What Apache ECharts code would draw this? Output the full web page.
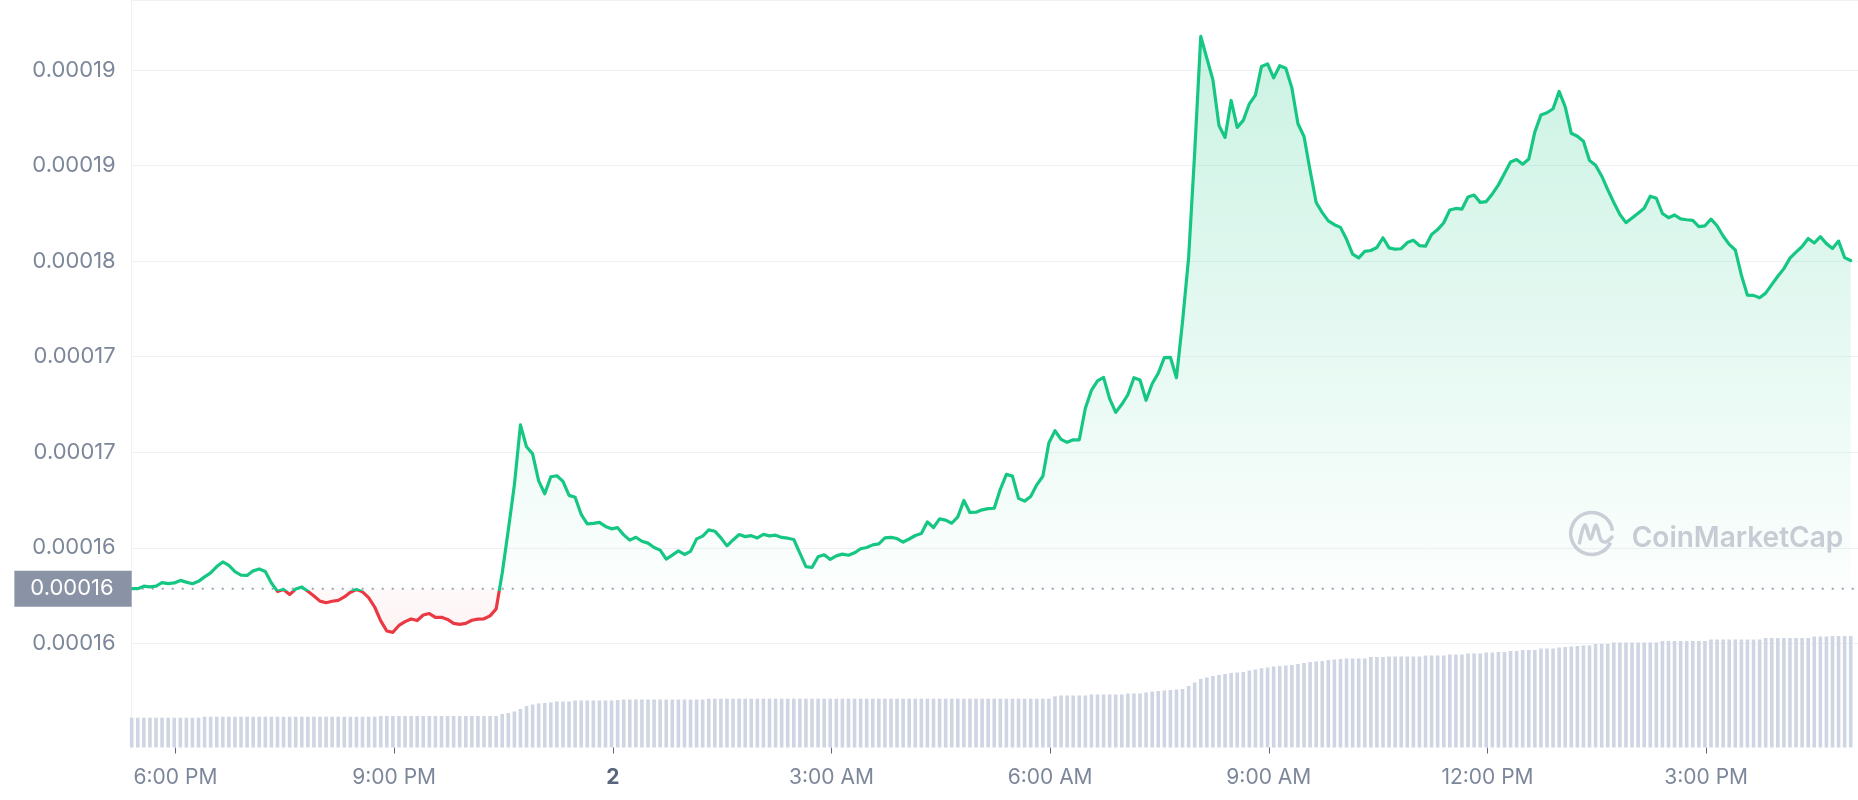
<!DOCTYPE html>
<html>
<head>
<meta charset="utf-8">
<script src="https://cdn.jsdelivr.net/npm/echarts@6/dist/echarts.min.js"></script>
<style>
html,body{margin:0;padding:0;background:#ffffff;}
#chart{width:1858px;height:800px;}
</style>
</head>
<body>
<div id="chart"></div>
<script>
// ---- data ----
const startTime = new Date(2023, 5, 1, 17, 24).getTime();   // first sample
const stepMinutes = 5;                                        // sample spacing
const axisSpanMinutes = 1421;                                 // visible time span
const baseline = 1.5943e-4;                                   // opening price (dotted line)

const prices = [
  1.5943e-4,1.5943e-4,1.5959e-4,1.5954e-4,1.5959e-4,1.5981e-4,1.5975e-4,1.5979e-4,1.5995e-4,1.5984e-4,
  1.5974e-4,1.5989e-4,1.6017e-4,1.6042e-4,1.6082e-4,1.6111e-4,1.6089e-4,1.6050e-4,1.6028e-4,1.6026e-4,
  1.6055e-4,1.6067e-4,1.6051e-4,1.5979e-4,1.5926e-4,1.5938e-4,1.5906e-4,1.5941e-4,1.5954e-4,1.5927e-4,
  1.5897e-4,1.5865e-4,1.5855e-4,1.5864e-4,1.5870e-4,1.5891e-4,1.5921e-4,1.5938e-4,1.5923e-4,1.5887e-4,
  1.5828e-4,1.5741e-4,1.5677e-4,1.5669e-4,1.5712e-4,1.5736e-4,1.5753e-4,1.5743e-4,1.5778e-4,1.5787e-4,
  1.5763e-4,1.5763e-4,1.5750e-4,1.5725e-4,1.5719e-4,1.5725e-4,1.5745e-4,1.5752e-4,1.5754e-4,1.5772e-4,
  1.5816e-4,1.6042e-4,1.6312e-4,1.6595e-4,1.6972e-4,1.6834e-4,1.6790e-4,1.6620e-4,1.6539e-4,1.6646e-4,
  1.6652e-4,1.6617e-4,1.6529e-4,1.6517e-4,1.6410e-4,1.6350e-4,1.6353e-4,1.6359e-4,1.6334e-4,1.6319e-4,
  1.6326e-4,1.6281e-4,1.6248e-4,1.6266e-4,1.6241e-4,1.6229e-4,1.6202e-4,1.6185e-4,1.6129e-4,1.6154e-4,
  1.6180e-4,1.6158e-4,1.6177e-4,1.6256e-4,1.6273e-4,1.6312e-4,1.6304e-4,1.6262e-4,1.6212e-4,1.6249e-4,
  1.6283e-4,1.6270e-4,1.6276e-4,1.6262e-4,1.6284e-4,1.6275e-4,1.6279e-4,1.6265e-4,1.6260e-4,1.6252e-4,
  1.6166e-4,1.6081e-4,1.6076e-4,1.6144e-4,1.6156e-4,1.6127e-4,1.6149e-4,1.6160e-4,1.6153e-4,1.6168e-4,
  1.6194e-4,1.6202e-4,1.6218e-4,1.6224e-4,1.6262e-4,1.6265e-4,1.6258e-4,1.6236e-4,1.6255e-4,1.6277e-4,
  1.6289e-4,1.6363e-4,1.6327e-4,1.6381e-4,1.6374e-4,1.6354e-4,1.6394e-4,1.6497e-4,1.6422e-4,1.6423e-4,
  1.6438e-4,1.6446e-4,1.6448e-4,1.6567e-4,1.6661e-4,1.6650e-4,1.6510e-4,1.6493e-4,1.6522e-4,1.6595e-4,
  1.6649e-4,1.6859e-4,1.6935e-4,1.6881e-4,1.6862e-4,1.6878e-4,1.6878e-4,1.7076e-4,1.7189e-4,1.7248e-4,
  1.7270e-4,1.7136e-4,1.7050e-4,1.7101e-4,1.7161e-4,1.7268e-4,1.7254e-4,1.7126e-4,1.7230e-4,1.7296e-4,
  1.7394e-4,1.7396e-4,1.7268e-4,1.7620e-4,1.8022e-4,1.8683e-4,1.9412e-4,1.9274e-4,1.9138e-4,1.8852e-4,
  1.8777e-4,1.9009e-4,1.8840e-4,1.8884e-4,1.8988e-4,1.9043e-4,1.9223e-4,1.9239e-4,1.9151e-4,1.9227e-4,
  1.9211e-4,1.9088e-4,1.8863e-4,1.8783e-4,1.8569e-4,1.8368e-4,1.8305e-4,1.8253e-4,1.8229e-4,1.8212e-4,
  1.8137e-4,1.8044e-4,1.8021e-4,1.8061e-4,1.8067e-4,1.8086e-4,1.8147e-4,1.8083e-4,1.8075e-4,1.8078e-4,
  1.8117e-4,1.8131e-4,1.8098e-4,1.8094e-4,1.8167e-4,1.8198e-4,1.8241e-4,1.8321e-4,1.8331e-4,1.8327e-4,
  1.8403e-4,1.8415e-4,1.8369e-4,1.8374e-4,1.8422e-4,1.8479e-4,1.8550e-4,1.8623e-4,1.8638e-4,1.8609e-4,
  1.8641e-4,1.8812e-4,1.8918e-4,1.8932e-4,1.8957e-4,1.9066e-4,1.8969e-4,1.8803e-4,1.8784e-4,1.8753e-4,
  1.8632e-4,1.8602e-4,1.8535e-4,1.8449e-4,1.8368e-4,1.8293e-4,1.8242e-4,1.8271e-4,1.8301e-4,1.8332e-4,
  1.8408e-4,1.8395e-4,1.8299e-4,1.8273e-4,1.8290e-4,1.8265e-4,1.8260e-4,1.8256e-4,1.8217e-4,1.8222e-4,
  1.8264e-4,1.8222e-4,1.8158e-4,1.8105e-4,1.8070e-4,1.7912e-4,1.7786e-4,1.7785e-4,1.7770e-4,1.7799e-4,
  1.7853e-4,1.7905e-4,1.7953e-4,1.8019e-4,1.8056e-4,1.8092e-4,1.8142e-4,1.8114e-4,1.8154e-4,1.8110e-4,
  1.8080e-4,1.8126e-4,1.8022e-4,1.8004e-4
];

const volumes = [
  2.98,2.98,2.98,2.98,2.98,2.98,2.98,2.98,2.98,2.98,
  2.98,2.98,3.08,3.08,3.08,3.08,3.08,3.08,3.08,3.08,
  3.08,3.08,3.08,3.08,3.08,3.08,3.08,3.08,3.08,3.08,
  3.08,3.08,3.08,3.08,3.08,3.08,3.08,3.08,3.08,3.08,
  3.08,3.15,3.15,3.15,3.15,3.15,3.15,3.15,3.15,3.15,
  3.15,3.15,3.15,3.15,3.15,3.15,3.15,3.15,3.15,3.15,
  3.15,3.35,3.45,3.60,3.85,4.15,4.30,4.40,4.45,4.50,
  4.60,4.60,4.60,4.70,4.70,4.70,4.70,4.70,4.70,4.70,
  4.75,4.80,4.80,4.80,4.80,4.80,4.80,4.80,4.80,4.80,
  4.80,4.80,4.80,4.80,4.80,4.88,4.88,4.88,4.88,4.88,
  4.88,4.88,4.88,4.88,4.88,4.88,4.88,4.88,4.88,4.88,
  4.88,4.88,4.88,4.88,4.88,4.88,4.88,4.88,4.88,4.88,
  4.88,4.88,4.88,4.88,4.88,4.88,4.88,4.88,4.88,4.88,
  4.88,4.88,4.88,4.88,4.88,4.88,4.88,4.88,4.88,4.88,
  4.88,4.88,4.88,4.88,4.88,4.88,4.88,4.88,4.88,4.88,
  4.88,4.88,5.12,5.20,5.20,5.20,5.20,5.20,5.30,5.30,
  5.30,5.30,5.30,5.30,5.40,5.40,5.40,5.50,5.60,5.65,
  5.70,5.75,5.80,5.85,6.15,6.50,6.85,7.00,7.15,7.25,
  7.35,7.45,7.50,7.55,7.70,7.80,7.92,8.00,8.10,8.15,
  8.20,8.25,8.35,8.45,8.55,8.60,8.65,8.75,8.80,8.85,
  8.90,8.90,8.90,8.90,9.05,9.05,9.05,9.10,9.10,9.10,
  9.10,9.10,9.10,9.20,9.20,9.20,9.20,9.30,9.30,9.30,
  9.40,9.40,9.40,9.50,9.50,9.55,9.55,9.65,9.65,9.75,
  9.75,9.75,9.90,9.90,9.90,10.00,10.05,10.10,10.15,10.20,
  10.20,10.35,10.35,10.35,10.50,10.50,10.50,10.50,10.50,10.50,
  10.50,10.50,10.65,10.65,10.65,10.65,10.65,10.65,10.65,10.65,
  10.80,10.80,10.80,10.80,10.80,10.80,10.80,10.80,10.80,10.95,
  10.95,10.95,10.95,10.95,10.95,10.95,10.95,11.10,11.10,11.10,
  11.15,11.15,11.15,11.15
];

const tickTimes = [
  new Date(2023, 5, 1, 18, 0).getTime(),
  new Date(2023, 5, 1, 21, 0).getTime(),
  new Date(2023, 5, 2, 0, 0).getTime(),
  new Date(2023, 5, 2, 3, 0).getTime(),
  new Date(2023, 5, 2, 6, 0).getTime(),
  new Date(2023, 5, 2, 9, 0).getTime(),
  new Date(2023, 5, 2, 12, 0).getTime(),
  new Date(2023, 5, 2, 15, 0).getTime()
];
const tickLabels = ['6:00 PM', '9:00 PM', '2', '3:00 AM', '6:00 AM', '9:00 AM', '12:00 PM', '3:00 PM'];

const yMin = 0.000156, yMax = 0.0001964, yInterval = 0.000006;

// ---- build ----
const times = prices.map((_, i) => startTime + i * stepMinutes * 60000);
const axisMin = startTime;
const axisMax = startTime + axisSpanMinutes * 60000;
const priceData = prices.map((p, i) => [times[i], p]);
const volData = volumes.map((v, i) => [times[i], v]);
const baseData = [[axisMin, baseline], [axisMax, baseline]];

const maxP = Math.max(...prices), minP = Math.min(...prices);
const f = (maxP - baseline) / (maxP - minP);

const FONT = 'Inter';
const GREEN = '#16c784', RED = '#ea3943';
const LABEL = '#7d879a';
const GRIDC = '#eff2f5';

function labelFor(val) {
  let idx = -1;
  for (let k = 0; k < tickTimes.length; k++) {
    if (Math.abs(tickTimes[k] - val) < 1000) { idx = k; break; }
  }
  const t = idx >= 0 ? tickLabels[idx] : '';
  return t.indexOf(':') >= 0 ? t : '{day|' + t + '}';
}

const chart = echarts.init(document.getElementById('chart'), null, {renderer: 'canvas'});
const option = {
  animation: false,
  backgroundColor: '#ffffff',
  grid: [
    {left: 131.7, right: 0, top: 0, bottom: 156.7, containLabel: false, outerBoundsMode: 'none'},
    {left: 131.7, right: 0, top: 627.5, bottom: 52.5, containLabel: false, outerBoundsMode: 'none'}
  ],
  xAxis: [
    {type: 'value', gridIndex: 0, min: axisMin, max: axisMax, show: false, scale: true},
    {type: 'value', gridIndex: 1, min: axisMin, max: axisMax, scale: true,
     axisLine: {show: false},
     splitLine: {show: false},
     axisTick: {show: true, length: 6, lineStyle: {color: '#58667e', width: 1}, customValues: tickTimes},
     axisLabel: {
       customValues: tickTimes,
       margin: 20,
       color: LABEL, fontFamily: FONT, fontSize: 21,
       formatter: labelFor,
       rich: {day: {fontWeight: 'bold', color: '#58667e', fontFamily: FONT, fontSize: 21}}
     }
    }
  ],
  yAxis: [
    {type: 'value', gridIndex: 0, min: yMin, max: yMax, interval: yInterval,
     axisLine: {show: true, lineStyle: {color: GRIDC, width: 1}},
     axisTick: {show: false},
     splitLine: {show: true, lineStyle: {color: GRIDC, width: 1}},
     axisLabel: {show: true, showMaxLabel: false, margin: 16, color: LABEL, fontFamily: FONT, fontSize: 22,
                 formatter: v => v.toFixed(5)}
    },
    {type: 'value', gridIndex: 1, min: 0, max: 12,
     axisLine: {show: true, lineStyle: {color: GRIDC, width: 1}},
     axisTick: {show: false}, axisLabel: {show: false}, splitLine: {show: false}
    }
  ],
  series: [
    {
      name: 'Price', type: 'line', xAxisIndex: 0, yAxisIndex: 0,
      data: priceData, showSymbol: false, symbol: 'none', smooth: false, z: 5,
      lineStyle: {
        width: 3.2, join: 'round', cap: 'round',
        color: new echarts.graphic.LinearGradient(0, 0, 0, 1, [
          {offset: 0, color: GREEN}, {offset: f, color: GREEN},
          {offset: f, color: RED}, {offset: 1, color: RED}
        ])
      },
      areaStyle: {
        origin: baseline,
        color: new echarts.graphic.LinearGradient(0, 0, 0, 1, [
          {offset: 0, color: 'rgba(22,199,132,0.32)'},
          {offset: Math.max(0, f - 0.001), color: 'rgba(22,199,132,0.02)'},
          {offset: f, color: 'rgba(234,57,67,0.04)'},
          {offset: 1, color: 'rgba(234,57,67,0.09)'}
        ])
      }
    },
    {
      name: 'Open', type: 'line', xAxisIndex: 0, yAxisIndex: 0,
      data: baseData, showSymbol: false, symbol: 'none', silent: true, z: 4,
      lineStyle: {color: '#9aa3b3', type: [2, 8], width: 2}
    },
    {
      name: 'Volume', type: 'bar', xAxisIndex: 1, yAxisIndex: 1,
      data: volData, barWidth: 3.6, itemStyle: {color: '#cfd5e2'}, z: 2
    }
  ],
  graphic: [
    {id: 'logoRing', type: 'arc', z: 10, silent: true,
     shape: {cx: 1591.7, cy: 533.5, r: 21, startAngle: 0.45, endAngle: 6.15},
     style: {stroke: '#c9ced7', lineWidth: 3.5, fill: null}},
    {id: 'logoM', type: 'polyline', z: 10, silent: true,
     shape: {points: [[1579.5, 543], [1585, 525], [1590.5, 539], [1596, 525], [1601, 540], [1606, 542], [1612, 537]], smooth: 0.35},
     style: {stroke: '#c9ced7', lineWidth: 3.5, fill: null, lineJoin: 'round', lineCap: 'round'}},
    {id: 'logoText', type: 'text', z: 10, silent: true, x: 1631.7, y: 538.5,
     style: {text: 'CoinMarketCap', font: '600 28px Inter', fill: '#c6cbd4', verticalAlign: 'middle'}}
  ]
};
chart.setOption(option);

// open-price tag on the y axis, placed through the axis scale
const by = chart.convertToPixel({yAxisIndex: 0}, baseline);
chart.setOption({
  graphic: [
    {id: 'openTag', type: 'text', z: 20, silent: true, x: 131.7, y: by,
     style: {text: baseline.toFixed(5), font: '22px Inter', fill: '#ffffff', align: 'right', verticalAlign: 'middle',
             backgroundColor: '#8a93a5', padding: [7, 18, 7, 16]}}
  ]
});
</script>
</body>
</html>
